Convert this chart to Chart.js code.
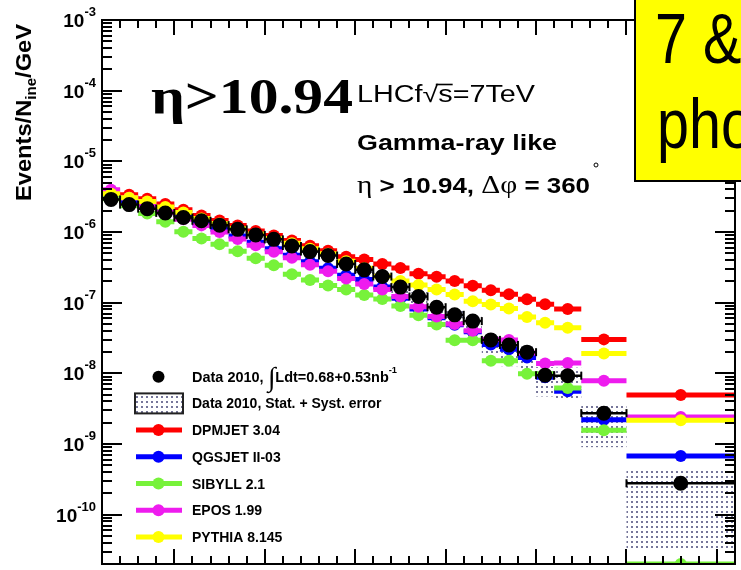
<!DOCTYPE html>
<html>
<head>
<meta charset="utf-8">
<script src="https://cdn.jsdelivr.net/npm/chart.js@4.4.0/dist/chart.umd.min.js"></script>
<style>
html, body { margin: 0; padding: 0; width: 741px; height: 570px; overflow: hidden; background: #fff; }
#wrap { position: relative; width: 741px; height: 570px; }
#chart { position: absolute; left: 0; top: 0; }
#note { position: absolute; left: 634px; top: -2px; width: 140px; height: 184px; background: #ffff00;
        border: 2px solid #000; box-sizing: border-box; overflow: hidden; }
.noteline { position: absolute; font-family: "Liberation Sans", Arial, sans-serif; font-size: 71px;
            line-height: 71px; white-space: nowrap; transform: scaleX(0.81); transform-origin: 0 0; color: #000; }
</style>
</head>
<body>
<div id="wrap">
  <canvas id="chart" width="741" height="570"></canvas>
  <div id="note">
    <div class="noteline" style="left:19px; top:3px;">7 &amp;</div>
    <div class="noteline" style="left:21px; top:88px;">pho</div>
  </div>
</div>
<script>
// photon energy bins (GeV)
var binEdges = [100, 200, 300, 400, 500, 600, 700, 800, 900, 1000, 1100, 1200, 1300, 1400, 1500,
                1600, 1700, 1800, 1900, 2000, 2100, 2200, 2300, 2400, 2500, 2600, 2750, 3000, 3600];

var dataValues = [2.89e-6, 2.44e-6, 2.14e-6, 1.86e-6, 1.60e-6, 1.44e-6, 1.25e-6, 1.09e-6, 9.09e-7, 7.86e-7,
                  6.33e-7, 5.28e-7, 4.64e-7, 3.53e-7, 2.91e-7, 2.34e-7, 1.66e-7, 1.22e-7, 8.62e-8, 6.72e-8,
                  5.48e-8, 2.97e-8, 2.52e-8, 1.99e-8, 9.40e-9, 9.25e-9, 2.73e-9, 2.78e-10];
// systematic error band, percent up / down
var sysUpPct   = [8, 8, 8, 8, 8, 8, 8, 8, 8, 10, 10, 10, 10, 10, 10, 10, 15, 15, 15, 15, 15, 20, 20, 20, 30, 30, 34, 61];
var sysDownPct = [8, 8, 8, 8, 8, 8, 8, 8, 8, 12, 12, 12, 12, 12, 12, 12, 25, 25, 25, 25, 25, 40, 50, 45, 50, 53, 67, 88];

var dpmjet = [3.83e-6, 3.37e-6, 2.96e-6, 2.48e-6, 2.07e-6, 1.71e-6, 1.45e-6, 1.24e-6, 1.03e-6, 8.94e-7,
              7.60e-7, 6.37e-7, 5.42e-7, 4.46e-7, 4.07e-7, 3.52e-7, 3.10e-7, 2.57e-7, 2.32e-7, 2.03e-7,
              1.73e-7, 1.50e-7, 1.31e-7, 1.12e-7, 9.50e-8, 8.11e-8, 3.02e-8, 4.94e-9];
var qgsjet = [3.16e-6, 2.69e-6, 2.25e-6, 1.91e-6, 1.60e-6, 1.32e-6, 1.09e-6, 8.80e-7, 7.13e-7, 5.78e-7,
              4.68e-7, 3.79e-7, 3.07e-7, 2.45e-7, 2.12e-7, 1.66e-7, 1.15e-7, 8.16e-8, 6.10e-8, 4.86e-8,
              3.88e-8, 2.55e-8, 2.19e-8, 1.67e-8, 8.76e-9, 5.57e-9, 2.20e-9, 6.74e-10];
var sibyll = [2.96e-6, 2.36e-6, 1.82e-6, 1.39e-6, 1.01e-6, 8.11e-7, 6.68e-7, 5.33e-7, 4.25e-7, 3.39e-7,
              2.53e-7, 2.09e-7, 1.75e-7, 1.53e-7, 1.28e-7, 1.13e-7, 8.99e-8, 6.61e-8, 4.91e-8, 2.94e-8,
              2.94e-8, 1.50e-8, 1.50e-8, 9.87e-9, 9.87e-9, 6.19e-9, 1.56e-9, 2e-11];
var epos   = [3.96e-6, 3.06e-6, 2.32e-6, 1.88e-6, 1.52e-6, 1.24e-6, 1.00e-6, 7.98e-7, 6.47e-7, 5.25e-7,
              4.32e-7, 3.44e-7, 2.79e-7, 2.19e-7, 1.83e-7, 1.53e-7, 1.22e-7, 8.71e-8, 6.34e-8, 4.98e-8,
              4.01e-8, 3.02e-8, 2.97e-8, 1.94e-8, 1.38e-8, 1.40e-8, 7.87e-9, 2.40e-9];
var pythia = [3.48e-6, 3.06e-6, 2.69e-6, 2.25e-6, 1.88e-6, 1.55e-6, 1.32e-6, 1.12e-6, 9.39e-7, 8.11e-7,
              6.90e-7, 5.78e-7, 4.91e-7, 3.86e-7, 3.07e-7, 2.37e-7, 2.02e-7, 1.77e-7, 1.53e-7, 1.30e-7,
              1.05e-7, 9.44e-8, 8.24e-8, 6.24e-8, 5.19e-8, 4.41e-8, 1.90e-8, 2.16e-9];

var modelNames  = ['DPMJET 3.04', 'QGSJET II-03', 'SIBYLL 2.1', 'EPOS 1.99', 'PYTHIA 8.145'];
var modelValues = [dpmjet, qgsjet, sibyll, epos, pythia];
var modelColors = ['#ff0000', '#0000ff', '#77f23a', '#ee1cee', '#ffff00'];
var modelOrder  = [5, 4, 3, 2, 1];   // lower order is drawn on top

var yDecades = [-3, -4, -5, -6, -7, -8, -9, -10];
var xMajorStep = 500, xMinorStep = 100;

var SANS = '"Liberation Sans", Arial, Helvetica, sans-serif';
var SERIF = '"Liberation Serif", "Times New Roman", serif';

// one bin = left edge, centre (with marker), right edge, then a gap
function binPoints(vals) {
    var pts = [], i, lo, hi;
    for (i = 0; i < vals.length; i++) {
        lo = binEdges[i];
        hi = binEdges[i + 1];
        pts.push({x: lo, y: vals[i]});
        pts.push({x: (lo + hi) / 2, y: vals[i], c: true});
        pts.push({x: hi, y: vals[i]});
        pts.push({x: hi, y: null});
    }
    return pts;
}

function isCentre(ctx) { return ctx.raw && ctx.raw.c; }

function runsWidth(ctx, runs) {
    var w = 0;
    runs.forEach(function (r) {
        ctx.font = r.font;
        w += ctx.measureText(r.t).width;
    });
    return w;
}

function drawRuns(ctx, runs, x, y, width, angle) {
    var natural = runsWidth(ctx, runs),
        sx = width ? width / natural : 1,
        cx = 0;
    ctx.save();
    ctx.translate(x, y);
    if (angle) { ctx.rotate(angle); }
    ctx.scale(sx, 1);
    ctx.fillStyle = '#000';
    ctx.textAlign = 'left';
    ctx.textBaseline = 'alphabetic';
    runs.forEach(function (r) {
        ctx.font = r.font;
        var w = ctx.measureText(r.t).width;
        ctx.fillText(r.t, cx, r.dy || 0);
        if (r.over) { ctx.fillRect(cx - 2, r.over, w + 2, 1.6); }
        cx += w;
    });
    ctx.restore();
    return natural * sx;
}

var dotPattern = null;
function getPattern(ctx) {
    if (!dotPattern) {
        var c = document.createElement('canvas'), g;
        c.width = 5; c.height = 5;
        g = c.getContext('2d');
        g.fillStyle = '#76769a';
        g.fillRect(1, 1, 2, 2);
        dotPattern = ctx.createPattern(c, 'repeat');
    }
    return dotPattern;
}

var sysBand = {
    id: 'sysBand',
    beforeDatasetsDraw: function (chart) {
        var ctx = chart.ctx, xs = chart.scales.x, ys = chart.scales.y, a = chart.chartArea, i, x1, x2, y1, y2;
        ctx.save();
        ctx.beginPath();
        ctx.rect(a.left, a.top, a.right - a.left, a.bottom - a.top);
        ctx.clip();
        ctx.fillStyle = getPattern(ctx);
        for (i = 0; i < dataValues.length; i++) {
            x1 = xs.getPixelForValue(binEdges[i]);
            x2 = xs.getPixelForValue(binEdges[i + 1]);
            y1 = ys.getPixelForValue(dataValues[i] * (1 + sysUpPct[i] / 100));
            y2 = ys.getPixelForValue(dataValues[i] * (1 - sysDownPct[i] / 100));
            ctx.fillRect(x1, y1, x2 - x1, y2 - y1);
        }
        ctx.restore();
    }
};

var frameAndTicks = {
    id: 'frameAndTicks',
    afterDraw: function (chart) {
        var ctx = chart.ctx, xs = chart.scales.x, ys = chart.scales.y, a = chart.chartArea,
            v, n, m, px, len;
        ctx.save();
        ctx.strokeStyle = '#000';
        ctx.lineWidth = 2;
        ctx.beginPath();
        // x ticks, bottom (up) and top (down)
        for (v = binEdges[0] + xMinorStep; v < xs.max; v += xMinorStep) {
            px = Math.round(xs.getPixelForValue(v));
            len = (v % xMajorStep === 0) ? 15 : 8;
            ctx.moveTo(px, a.bottom); ctx.lineTo(px, a.bottom - len);
            ctx.moveTo(px, a.top); ctx.lineTo(px, a.top + len);
        }
        // y ticks, left and right
        for (n = -11; n <= -3; n++) {
            for (m = 1; m <= 9; m++) {
                v = m * Math.pow(10, n);
                if (v < ys.min * 0.999 || v > ys.max * 1.001) { continue; }
                px = Math.round(ys.getPixelForValue(v));
                len = (m === 1) ? 20 : 10;
                ctx.moveTo(a.left, px); ctx.lineTo(a.left + len, px);
                ctx.moveTo(a.right, px); ctx.lineTo(a.right - len, px);
            }
        }
        ctx.stroke();
        ctx.strokeRect(a.left, a.top, a.right - a.left, a.bottom - a.top);
        ctx.restore();

        // y tick labels 10^n
        yDecades.forEach(function (d) {
            var py = ys.getPixelForValue(Math.pow(10, d)),
                runs = [{t: '10', font: 'bold 19px ' + SANS, dy: 7},
                        {t: String(d).replace('-', '-'), font: 'bold 13px ' + SANS, dy: -4}],
                w = runsWidth(ctx, runs);
            drawRuns(ctx, runs, 96 - w, py, null);
        });

        // y axis title
        drawRuns(ctx, [
            {t: 'Events/N', font: 'bold 22px ' + SANS},
            {t: 'ine', font: 'bold 14px ' + SANS, dy: 5},
            {t: '/GeV', font: 'bold 22px ' + SANS}
        ], 31, 201, 177, -Math.PI / 2);
    }
};

var annotations = {
    id: 'annotations',
    afterDraw: function (chart) {
        var ctx = chart.ctx;
        drawRuns(ctx, [{t: '\u03b7>10.94', font: 'bold 50px ' + SERIF}], 151, 112.5, 202);
        drawRuns(ctx, [
            {t: 'LHCf', font: '23px ' + SANS},
            {t: '\u221a', font: '23px ' + SANS},
            {t: 's', font: '23px ' + SANS, over: -18},
            {t: '=7TeV', font: '23px ' + SANS}
        ], 357, 101.7, 178);
        drawRuns(ctx, [{t: 'Gamma-ray like', font: 'bold 22px ' + SANS}], 357, 149.5, 200);
        drawRuns(ctx, [
            {t: '\u03b7', font: '25px ' + SERIF},
            {t: ' > 10.94, ', font: 'bold 22px ' + SANS},
            {t: '\u0394\u03c6', font: '25px ' + SERIF},
            {t: ' = 360', font: 'bold 22px ' + SANS}
        ], 357, 192.7, 233);
        ctx.save();
        ctx.strokeStyle = '#000';
        ctx.lineWidth = 1;
        ctx.beginPath();
        ctx.arc(596, 165, 2, 0, Math.PI * 2);
        ctx.stroke();
        ctx.restore();
    }
};

var legendBox = {
    id: 'legendBox',
    afterDraw: function (chart) {
        var ctx = chart.ctx, top = 376.7, step = 26.7, sx = 158.5, tx = 192, i, y, ds;
        ctx.save();
        // data marker
        ctx.fillStyle = '#000';
        ctx.beginPath();
        ctx.arc(sx, top, 6, 0, Math.PI * 2);
        ctx.fill();
        drawRuns(ctx, [
            {t: 'Data 2010, ', font: 'bold 14px ' + SANS},
            {t: '\u222b', font: '27px ' + SERIF, dy: 4},
            {t: 'Ldt=0.68+0.53nb', font: 'bold 14px ' + SANS},
            {t: '-1', font: 'bold 9px ' + SANS, dy: -9}
        ], tx, top + 5, 205);
        // systematic box
        y = top + step;
        ctx.fillStyle = getPattern(ctx);
        ctx.fillRect(135, y - 10, 48, 20);
        ctx.strokeStyle = '#222';
        ctx.lineWidth = 2;
        ctx.strokeRect(135, y - 10, 48, 20);
        drawRuns(ctx, [{t: 'Data 2010, Stat. + Syst. error', font: 'bold 14px ' + SANS}], tx, y + 5, null);
        // models
        for (i = 0; i < modelNames.length; i++) {
            y = top + step * (i + 2);
            ds = modelColors[i];
            ctx.strokeStyle = ds;
            ctx.lineWidth = 5;
            ctx.beginPath();
            ctx.moveTo(136, y); ctx.lineTo(182, y);
            ctx.stroke();
            ctx.fillStyle = ds;
            ctx.beginPath();
            ctx.arc(sx, y, 6, 0, Math.PI * 2);
            ctx.fill();
            drawRuns(ctx, [{t: modelNames[i], font: 'bold 14px ' + SANS}], tx, y + 5, null);
        }
        ctx.restore();
    }
};

var datasets = modelNames.map(function (name, i) {
    return {
        label: name,
        data: binPoints(modelValues[i]),
        borderColor: modelColors[i],
        backgroundColor: modelColors[i],
        borderWidth: 5,
        borderCapStyle: 'butt',
        tension: 0,
        pointRadius: function (ctx) { return isCentre(ctx) ? 6 : 0; },
        pointBorderWidth: 0,
        pointBackgroundColor: modelColors[i],
        order: modelOrder[i]
    };
});

datasets.push({
    label: 'Data 2010',
    data: binPoints(dataValues),
    borderColor: '#000',
    backgroundColor: '#000',
    borderWidth: 2.5,
    tension: 0,
    pointStyle: function (ctx) { return isCentre(ctx) ? 'circle' : 'line'; },
    rotation: 90,
    pointRadius: function (ctx) { return isCentre(ctx) ? 6.5 : 4; },
    pointBorderWidth: 2,
    pointBorderColor: '#000',
    pointBackgroundColor: '#000',
    order: 0
});

new Chart(document.getElementById('chart').getContext('2d'), {
    type: 'line',
    data: {datasets: datasets},
    options: {
        responsive: false,
        animation: false,
        events: [],
        layout: {padding: {left: 102, top: 20, right: 3, bottom: 2}},
        plugins: {legend: {display: false}, tooltip: {enabled: false}},
        scales: {
            x: {type: 'linear', min: binEdges[0], max: binEdges[binEdges.length - 1], display: false},
            y: {type: 'logarithmic', min: 2e-11, max: 1e-3, display: false}
        }
    },
    plugins: [sysBand, frameAndTicks, annotations, legendBox]
});
</script>
</body>
</html>
